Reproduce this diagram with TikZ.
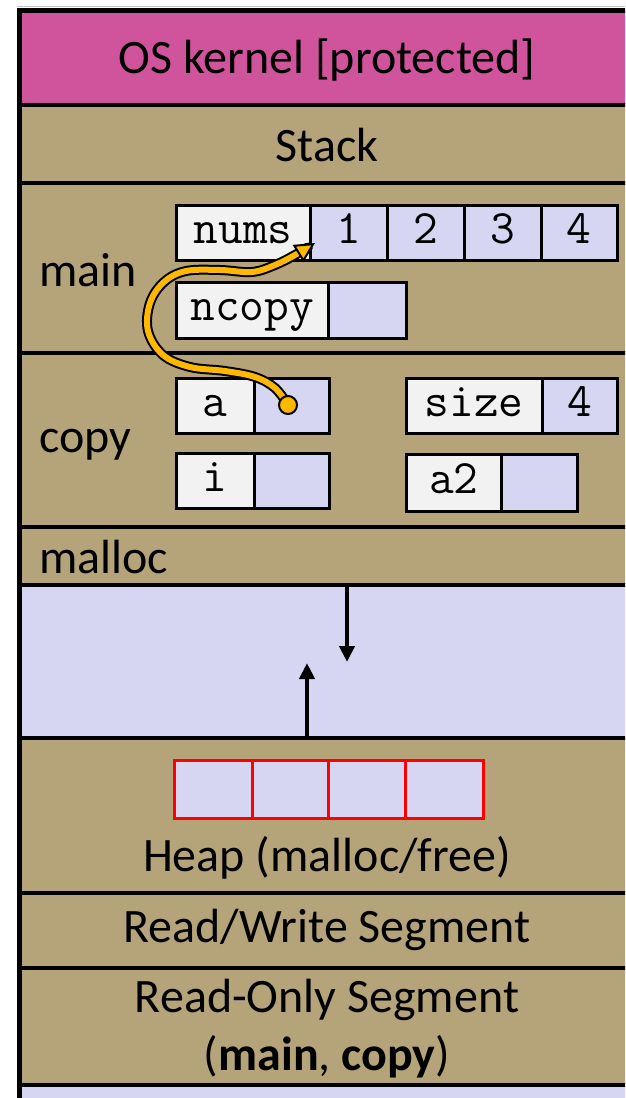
\documentclass[tikz,border=0pt]{standalone}
\usepackage{fontspec}
\setmainfont{Carlito}
\usetikzlibrary{arrows.meta}
\definecolor{kpink}{RGB}{208,84,155}
\definecolor{tanc}{RGB}{181,164,122}
\definecolor{lav}{RGB}{214,214,243}
\definecolor{lgray}{RGB}{242,242,242}
\definecolor{ptr}{RGB}{255,184,0}
\definecolor{hred}{RGB}{255,0,0}
\begin{document}
\begin{tikzpicture}[x=1pt,y=-1pt,
  divider/.style={line width=4pt, black},
  frameline/.style={line width=5pt, black},
  lbl/.style={font=\fontsize{48}{58}\selectfont, inner sep=0pt, text=black},
  cellbase/.style={draw=black, line width=2.5pt, inner sep=0pt, anchor=north west,
    font=\ttfamily\fontsize{48}{48}\selectfont, text height=26pt, text depth=5pt},
  namebox/.style={cellbase, fill=lgray},
  valbox/.style={cellbase, fill=lav},
  heapcell/.style={draw=hred, line width=3pt, fill=lav, inner sep=0pt, anchor=north west, minimum height=58pt},
  growarrow/.style={line width=4pt, black, -{Triangle[length=16pt,width=15pt]}},
  ptrshadow/.style={line width=10pt, black, line cap=round, line join=round, shorten >=14pt},
  ptrline/.style={line width=6pt, ptr, line cap=round, line join=round,
    -{Triangle[length=20pt,width=20pt,color=black,fill=ptr,line width=2pt]}}
]
\useasboundingbox (0,0) rectangle (625,1098);
\clip (0,0) rectangle (625,1098);
\fill[white] (0,0) rectangle (625,1098);
% bands
\fill[kpink] (20,10) rectangle (640,105);
\fill[tanc] (20,105) rectangle (640,585);
\fill[lav] (20,585) rectangle (640,738);
\fill[tanc] (20,738) rectangle (640,1085);
\fill[lav] (20,1085) rectangle (640,1100);
% dividers
\foreach \yy in {105,183,353,527,585,738,893,968,1085}
  \draw[divider] (19,\yy) -- (640,\yy);
\draw[gray!45, line width=1.5pt] (17,6.5) -- (640,6.5);
\draw[frameline] (19.5,1100) -- (19.5,10) -- (640,10);

% labels
\node[lbl] (kernel) at (327,60) {OS kernel [protected]};
\node[lbl] (stack) at (327,145) {Stack};
\node[lbl, anchor=west] (mainlbl) at (39,270) {main};
\node[lbl, anchor=west] (copylbl) at (39,445) {copy};
\node[lbl, anchor=west] (malloclbl) at (39,557) {malloc};
\node[lbl] (heaplbl) at (327,858) {Heap (malloc/free)};
\node[lbl] (rwlbl) at (327,930) {Read/Write Segment};
\node[lbl, align=center] (rolbl) at (327,1029) {Read-Only Segment\\(\textbf{main}, \textbf{copy})};

% main frame
\node[namebox, minimum width=134pt, minimum height=55pt] (nums) at (175,204) {nums};
\node[valbox, minimum width=77pt, minimum height=55pt] (n1) at (309,204) {1};
\node[valbox, minimum width=77pt, minimum height=55pt] (n2) at (386,204) {2};
\node[valbox, minimum width=77pt, minimum height=55pt] (n3) at (463,204) {3};
\node[valbox, minimum width=76pt, minimum height=55pt] (n4) at (540,204) {4};
\node[namebox, minimum width=152pt, minimum height=56pt] (ncopy) at (175,281) {ncopy};
\node[valbox, minimum width=78pt, minimum height=56pt] (ncopyv) at (327,281) {};

% copy frame
\node[namebox, minimum width=78pt, minimum height=55pt] (a) at (175,377) {a};
\node[valbox, minimum width=75pt, minimum height=55pt] (av) at (253,377) {};
\node[namebox, minimum width=136pt, minimum height=55pt] (size) at (405,377) {size};
\node[valbox, minimum width=75pt, minimum height=55pt] (sizev) at (541,377) {4};
\node[namebox, minimum width=78pt, minimum height=55pt] (i) at (175,452) {i};
\node[valbox, minimum width=75pt, minimum height=55pt] (iv) at (253,452) {};
\node[namebox, minimum width=95pt, minimum height=57pt] (a2) at (405,453) {a2};
\node[valbox, minimum width=76pt, minimum height=57pt] (a2v) at (500,453) {};

% heap array
\node[heapcell, minimum width=78pt] (h1) at (173,759) {};
\node[heapcell, minimum width=76pt] (h2) at (251,759) {};
\node[heapcell, minimum width=77pt] (h3) at (327,759) {};
\node[heapcell, minimum width=78pt] (h4) at (404,759) {};

% growth arrows
\coordinate (dtop) at (347,585);
\coordinate (dtip) at (347,662);
\coordinate (ubot) at (307,738);
\coordinate (utip) at (307,663);
\draw[growarrow] (dtop) -- (dtip);
\draw[growarrow] (ubot) -- (utip);

% pointer a -> nums
\coordinate (src) at (288,405);
\coordinate (dst) at (315,243);
\draw[ptrshadow] plot[smooth, tension=0.6] coordinates {(src) (275,388) (255,377) (225,371) (190,367) (163,355) (148,331) (150,303) (164,282) (186,271) (220,270) (252,272) (275,265) (295,255) (dst)};
\draw[ptrline] plot[smooth, tension=0.6] coordinates {(src) (275,388) (255,377) (225,371) (190,367) (163,355) (148,331) (150,303) (164,282) (186,271) (220,270) (252,272) (275,265) (295,255) (dst)};
\fill[ptr, draw=black, line width=2pt] (src) circle[radius=9pt];
\end{tikzpicture}
\end{document}
